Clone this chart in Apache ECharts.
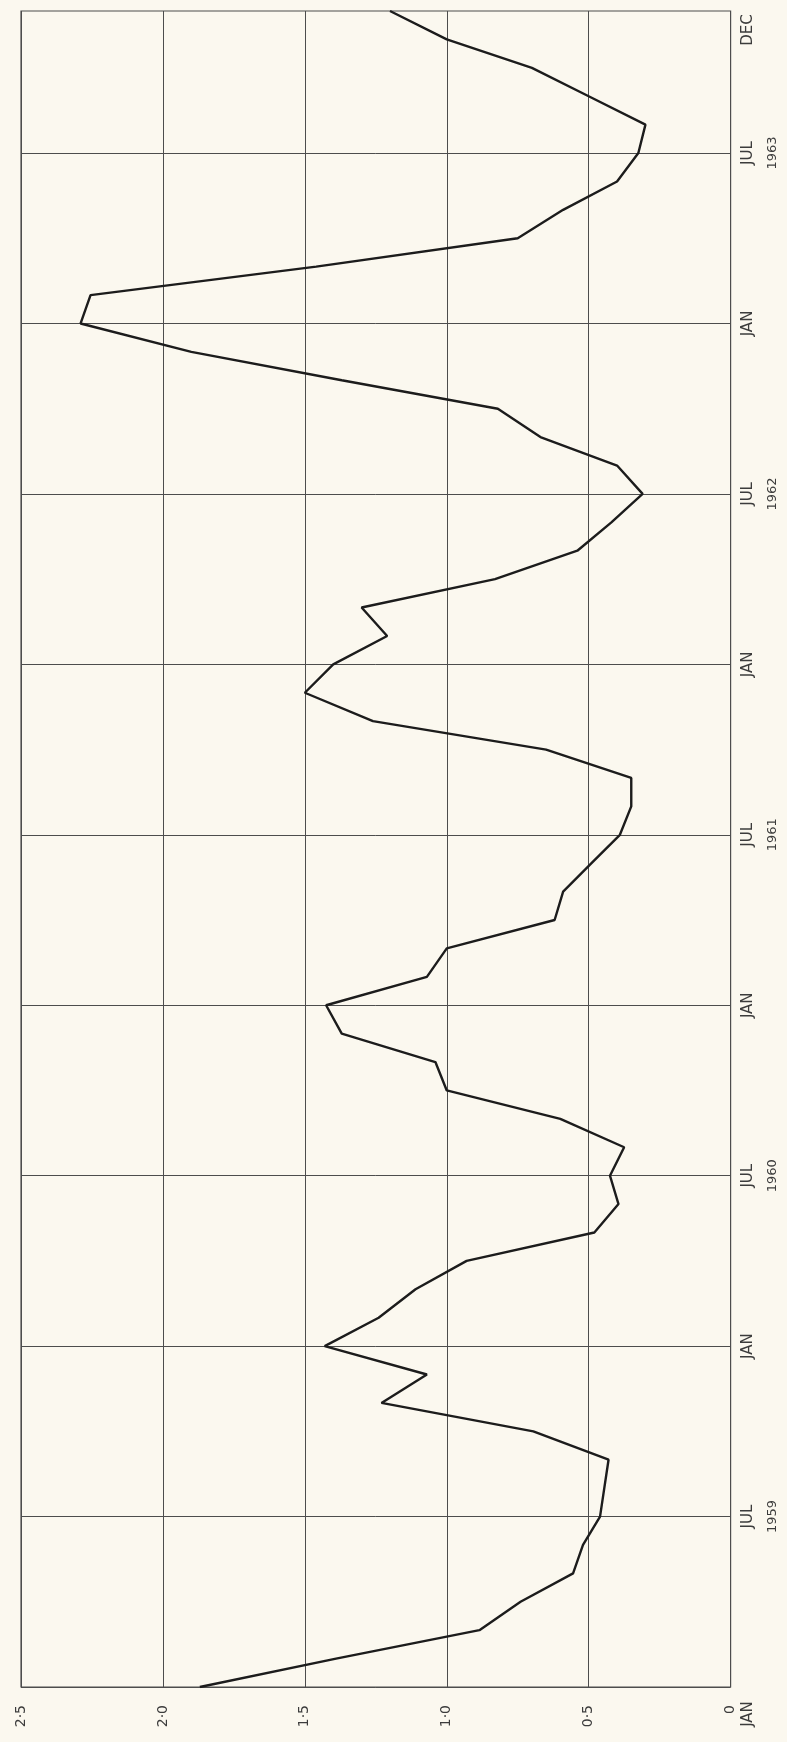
<!DOCTYPE html>
<html>
<head>
<meta charset="utf-8">
<script src="https://cdn.jsdelivr.net/npm/echarts@6/dist/echarts.min.js"></script>
<style>
  html, body { margin: 0; padding: 0; background: #fbf8ef; }
  #chart { width: 787px; height: 1742px; }
</style>
</head>
<body>
<div id="chart"></div>
<script>
// Monthly series, January 1959 to December 1963
const years = [1959, 1960, 1961, 1962, 1963];
const monthNames = ['JAN', 'FEB', 'MAR', 'APR', 'MAY', 'JUN', 'JUL', 'AUG', 'SEP', 'OCT', 'NOV', 'DEC'];

const v1959 = [1.87, 1.39, 0.885, 0.74, 0.555, 0.52, 0.46, 0.445, 0.43, 0.695, 1.23, 1.07];
const v1960 = [1.43, 1.24, 1.11, 0.93, 0.48, 0.395, 0.425, 0.375, 0.60, 1.00, 1.04, 1.37];
const v1961 = [1.425, 1.07, 1.00, 0.62, 0.59, 0.49, 0.39, 0.35, 0.35, 0.65, 1.26, 1.50];
const v1962 = [1.40, 1.21, 1.30, 0.83, 0.54, 0.42, 0.31, 0.40, 0.67, 0.82, 1.37, 1.90];
const v1963 = [2.29, 2.255, 1.46, 0.75, 0.59, 0.40, 0.325, 0.30, 0.50, 0.70, 1.00, 1.20];

// value-axis tick labels, from 0 up to 2·5
const valueTickLabels = ['0', '0·5', '1·0', '1·5', '2·0', '2·5'];

const months = [];
years.forEach(y => monthNames.forEach(m => months.push(m + ' ' + y)));
const values = [].concat(v1959, v1960, v1961, v1962, v1963);
const lastIndex = months.length - 1;

const chart = echarts.init(document.getElementById('chart'), null, { renderer: 'canvas' });

const textColor = '#3c3c3c';
const gridColor = '#4d4d4d';
const fontFamily = '"DejaVu Sans", "Noto Sans", sans-serif';

chart.setOption({
  backgroundColor: '#fbf8ef',
  animation: false,
  grid: {
    left: 21, right: 56.4, top: 11, bottom: 55,
    show: true,
    borderColor: gridColor,
    borderWidth: 1.2,
    backgroundColor: 'transparent',
    outerBoundsMode: 'none',
    containLabel: false
  },
  xAxis: {
    type: 'value',
    inverse: true,
    min: 0, max: 2.5, interval: 0.5,
    position: 'bottom',
    axisLine: { show: false },
    axisTick: { show: false },
    splitLine: { show: true, lineStyle: { color: gridColor, width: 1 } },
    axisLabel: {
      rotate: 90,
      margin: 18,
      color: textColor,
      fontFamily: fontFamily,
      fontSize: 14,
      formatter: v => valueTickLabels[Math.round(v / 0.5)]
    }
  },
  yAxis: {
    type: 'category',
    data: months,
    boundaryGap: false,
    position: 'right',
    axisLine: { show: false },
    axisTick: { show: false },
    splitLine: {
      show: true,
      interval: i => i % 6 === 0,
      lineStyle: { color: gridColor, width: 1 }
    },
    axisLabel: {
      rotate: 90,
      margin: 6,
      interval: i => i % 6 === 0 || i === lastIndex,
      color: textColor,
      fontFamily: fontFamily,
      fontSize: 15,
      lineHeight: 24,
      formatter: (value, index) => {
        const m = index % 12;
        const y = years[Math.floor(index / 12)];
        if (index === lastIndex) return '{top|DEC}';
        if (index === 0) return '{bot|JAN}';
        if (m === 0) return 'JAN';
        if (m === 6) return 'JUL\n{yr|' + y + '}';
        return '';
      },
      rich: {
        // first and last month names sit inside the frame's end rather than on its edge
        top: { fontSize: 15, color: textColor, fontFamily: fontFamily, padding: [0, 38, 0, 0], lineHeight: 24 },
        bot: { fontSize: 15, color: textColor, fontFamily: fontFamily, padding: [0, 54, 0, 0], lineHeight: 24 },
        yr: { fontSize: 13, color: textColor, fontFamily: fontFamily, lineHeight: 24 }
      }
    }
  },
  series: [{
    type: 'line',
    data: values,
    symbol: 'none',
    smooth: false,
    lineStyle: { color: '#1c1c1c', width: 2.4 },
    z: 5
  }]
});
</script>
</body>
</html>
